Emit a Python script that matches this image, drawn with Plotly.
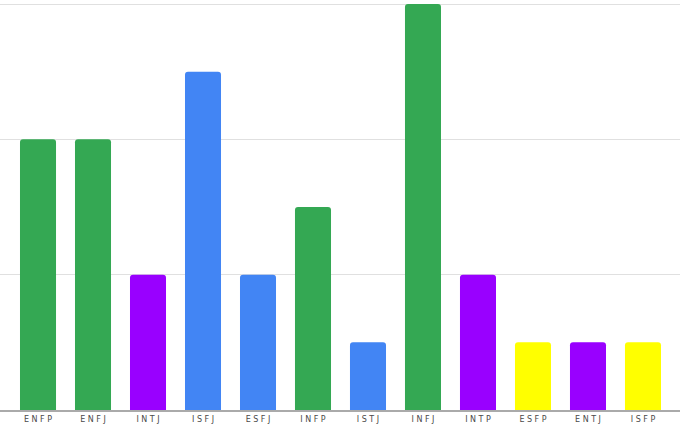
import plotly.graph_objects as go

types = ['ENFP', 'ENFJ', 'INTJ', 'ISFJ', 'ESFJ', 'INFP', 'ISTJ', 'INFJ', 'INTP', 'ESFP', 'ENTJ', 'ISFP']
counts = [4, 4, 2, 5, 2, 3, 1, 6, 2, 1, 1, 1]
groups = ['NF', 'NF', 'NT', 'SJ', 'SJ', 'NF', 'SJ', 'NF', 'NT', 'SP', 'NT', 'SP']

group_colors = {'NF': '#34A853', 'NT': '#9900FF', 'SJ': '#4285F4', 'SP': '#FFFF00'}

# spread letters out like the original labels
tick_text = [' '.join(t) for t in types]

fig = go.Figure()
fig.add_trace(go.Bar(
    x=list(range(len(types))),
    y=counts,
    marker=dict(color=[group_colors[g] for g in groups], cornerradius=3, line=dict(width=0)),
    showlegend=False,
    hoverinfo='skip',
))

fig.update_layout(
    width=680, height=426,
    margin=dict(l=0, r=0, t=3, b=16),
    paper_bgcolor='white',
    plot_bgcolor='white',
    bargap=0.345,
    xaxis=dict(
        range=[-0.691, 11.673],
        tickmode='array',
        tickvals=list(range(len(types))),
        ticktext=tick_text,
        tickfont=dict(family='DejaVu Sans', size=8, color='#4a4a4a'),
        showgrid=False,
        showline=True,
        linecolor='#aaaaaa',
        linewidth=2,
        ticks='',
        zeroline=False,
    ),
    yaxis=dict(
        range=[0, 6.015],
        tickmode='array',
        tickvals=[2, 4, 6],
        showticklabels=False,
        gridcolor='#e0e0e0',
        gridwidth=1,
        zeroline=False,
    ),
)

# page has a default body margin, drop it so the chart sits at 0,0
fig.write_html("out.html", config={'displayModeBar': False},
               post_script="document.body.style.margin='0';document.body.style.overflow='hidden';")
